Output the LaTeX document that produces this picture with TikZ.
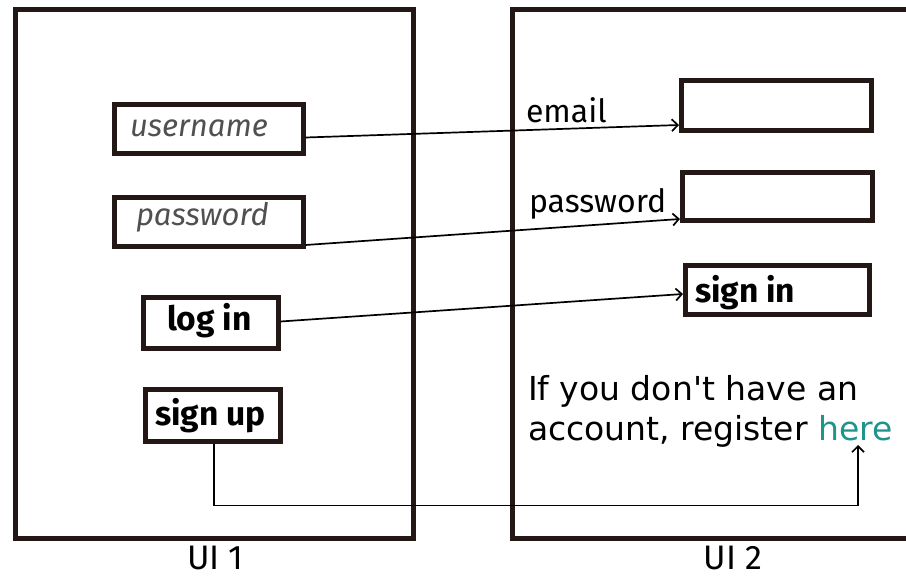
\documentclass[tikz,border=0pt]{standalone}
\usepackage{fontspec}
\setmainfont{Fira Sans}
\newfontfamily\parafont{DejaVu Sans}
\usetikzlibrary{arrows.meta}
\definecolor{framecol}{HTML}{231815}
\definecolor{hintgray}{HTML}{505050}
\definecolor{linkteal}{RGB}{30,148,140}
\tikzset{
  frame/.style={draw=framecol, line width=5pt, inner sep=0pt},
  field/.style={draw=framecol, line width=5pt, fill=white, inner sep=0pt},
  txt/.style={anchor=base west, inner sep=0pt, outer sep=0pt},
  hint/.style={txt, text=hintgray, font=\itshape\fontsize{31}{37}\selectfont},
  btn/.style={txt, font=\bfseries\fontsize{33.5}{40}\selectfont},
  lbl/.style={txt, font=\fontsize{32}{38}\selectfont},
  screencap/.style={anchor=base, inner sep=0pt, text depth=0pt, font=\fontsize{34}{40}\selectfont},
  para/.style={txt, font=\parafont\fontsize{33}{40}\selectfont},
  link/.style={line width=1.7pt, -{Straight Barb[length=6pt,width=12pt,line width=1.7pt]}},
}
\begin{document}
\begin{tikzpicture}[x=1pt, y=-1pt]
\useasboundingbox (0,0) rectangle (906,579);
\clip (0,0) rectangle (906,579);

% the two screens
\node[frame, minimum width=398pt, minimum height=529pt] (ui1) at (214,273.5) {};
\node[frame, minimum width=438pt, minimum height=529pt] (ui2) at (731,273.5) {};
\node[screencap] (cap1) at (215.5,569) {UI 1};
\node[screencap] (cap2) at (733,569) {UI 2};

% UI 1 widgets
\node[field, minimum width=189pt, minimum height=49pt] (user) at (208.5,128.5) {};
\node[field, minimum width=189pt, minimum height=49pt] (pass) at (208.5,221.5) {};
\node[field, minimum width=135pt, minimum height=51pt] (login) at (210.5,322.5) {};
\node[field, minimum width=135pt, minimum height=52pt] (signup) at (212.5,415) {};
\node[hint] (usertxt) at (130,136) {username};
\node[hint] (passtxt) at (136,225) {password};
\node[btn] (logintxt) at (167,330) {log in};
\node[btn] (signuptxt) at (155,425) {sign up};

% UI 2 widgets
\node[field, minimum width=190pt, minimum height=50pt] (email) at (776.5,105.5) {};
\node[field, minimum width=190pt, minimum height=48pt] (pw) at (777.5,196.5) {};
\node[field, minimum width=184pt, minimum height=49pt] (signin) at (777.5,290) {};
\node[lbl] (emailtxt) at (526,122) {email};
\node[lbl] (pwtxt) at (529,212) {password};
\node[btn] (signintxt) at (695,302) {sign in};
\node[para] (line1) at (528,400) {If you don't have an};
\node[para] (line2) at (528,440) {account, register \textcolor{linkteal}{here}};
\coordinate (herept) at (858,445);

% connections between the screens
\draw[link] ([yshift=-9pt]user.east) -- ([yshift=-19.5pt]email.west);
\draw[link] ([yshift=-23.5pt]pass.east) -- ([yshift=-22.5pt]pw.west);
\draw[link] ([yshift=1pt]login.east) -- ([yshift=-4pt]signin.west);
\draw[link] ([xshift=1.5pt]signup.south) -- ++(0,62) -| (herept);
\end{tikzpicture}
\end{document}
